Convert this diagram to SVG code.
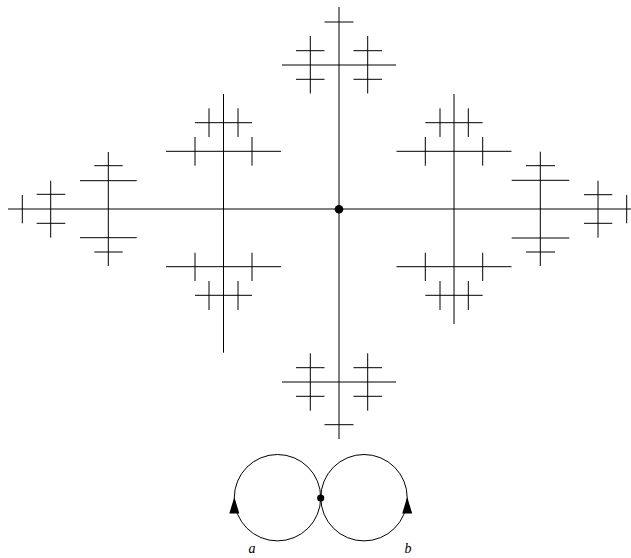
<svg xmlns="http://www.w3.org/2000/svg" width="631" height="558" viewBox="0 0 631 558">
<style>
line{stroke:#000;stroke-width:1;fill:none}
.c{fill:none;stroke:#000;stroke-width:1}
.dot{fill:#000}
.lbl{font-family:"Liberation Serif",serif;font-style:italic;font-size:14px;fill:#000}
</style>
<rect width="631" height="558" fill="#fff"/>
<g id="connectors">
<line x1="8" y1="209" x2="631" y2="209"/>
<line x1="339" y1="7" x2="339" y2="439"/>
<!-- top cluster -->
<line x1="282" y1="65" x2="396" y2="65"/>
<line x1="324.5" y1="22" x2="353.5" y2="22"/>
<line x1="310.3" y1="36" x2="310.3" y2="93.5"/>
<line x1="367.7" y1="36" x2="367.7" y2="93.5"/>
<line x1="296" y1="50.7" x2="324.5" y2="50.7"/>
<line x1="353.5" y1="50.7" x2="382" y2="50.7"/>
<line x1="296" y1="79.3" x2="324.5" y2="79.3"/>
<line x1="353.5" y1="79.3" x2="382" y2="79.3"/>
<!-- bottom cluster -->
<line x1="282" y1="382" x2="396" y2="382"/>
<line x1="324.5" y1="424.7" x2="353.5" y2="424.7"/>
<line x1="310.3" y1="353.3" x2="310.3" y2="410.7"/>
<line x1="367.7" y1="353.3" x2="367.7" y2="410.7"/>
<line x1="296" y1="367.7" x2="324.5" y2="367.7"/>
<line x1="353.5" y1="367.7" x2="382" y2="367.7"/>
<line x1="296" y1="396.3" x2="324.5" y2="396.3"/>
<line x1="353.5" y1="396.3" x2="382" y2="396.3"/>
<!-- left column -->
<line x1="223.5" y1="94" x2="223.5" y2="352.7"/>
<line x1="166" y1="151.3" x2="281" y2="151.3"/>
<line x1="195" y1="137" x2="195" y2="165.7"/>
<line x1="252" y1="137" x2="252" y2="165.7"/>
<line x1="195" y1="122.7" x2="252" y2="122.7"/>
<line x1="209" y1="108.3" x2="209" y2="137"/>
<line x1="238" y1="108.3" x2="238" y2="137"/>
<line x1="166" y1="266.7" x2="281" y2="266.7"/>
<line x1="195" y1="252.7" x2="195" y2="281"/>
<line x1="252" y1="252.7" x2="252" y2="281"/>
<line x1="195" y1="295.3" x2="252" y2="295.3"/>
<line x1="209" y1="281" x2="209" y2="310"/>
<line x1="238" y1="281" x2="238" y2="310"/>
<!-- right column -->
<line x1="454" y1="94" x2="454" y2="324"/>
<line x1="396.5" y1="151.3" x2="511.5" y2="151.3"/>
<line x1="425.3" y1="137" x2="425.3" y2="165.7"/>
<line x1="482.7" y1="137" x2="482.7" y2="165.7"/>
<line x1="425.3" y1="122.7" x2="482.7" y2="122.7"/>
<line x1="440" y1="108.3" x2="440" y2="137"/>
<line x1="468.3" y1="108.3" x2="468.3" y2="137"/>
<line x1="396.5" y1="266.7" x2="511.5" y2="266.7"/>
<line x1="425.3" y1="252.7" x2="425.3" y2="281"/>
<line x1="482.7" y1="252.7" x2="482.7" y2="281"/>
<line x1="425.3" y1="295.3" x2="482.7" y2="295.3"/>
<line x1="440" y1="281" x2="440" y2="310"/>
<line x1="468.3" y1="281" x2="468.3" y2="310"/>
<!-- far left -->
<line x1="108.3" y1="152" x2="108.3" y2="266"/>
<line x1="80" y1="180.7" x2="136.7" y2="180.7"/>
<line x1="80" y1="237.7" x2="136.7" y2="237.7"/>
<line x1="94.3" y1="165.7" x2="122.7" y2="165.7"/>
<line x1="94.3" y1="252" x2="122.7" y2="252"/>
<line x1="50.7" y1="180.7" x2="50.7" y2="237.7"/>
<line x1="36.7" y1="194.3" x2="65.3" y2="194.3"/>
<line x1="36.7" y1="223.3" x2="65.3" y2="223.3"/>
<line x1="22.3" y1="195" x2="22.3" y2="223.3"/>
<!-- far right -->
<line x1="540.3" y1="151.7" x2="540.3" y2="266"/>
<line x1="511.7" y1="180.3" x2="569.3" y2="180.3"/>
<line x1="511.7" y1="238" x2="569.3" y2="238"/>
<line x1="526" y1="165.7" x2="555" y2="165.7"/>
<line x1="526" y1="252" x2="555" y2="252"/>
<line x1="598" y1="180.7" x2="598" y2="237.7"/>
<line x1="584" y1="194.7" x2="612.3" y2="194.7"/>
<line x1="584" y1="223.3" x2="612.3" y2="223.3"/>
<line x1="626.7" y1="195" x2="626.7" y2="223.3"/>
</g>
<g id="identity">
<circle class="dot" cx="339" cy="209.3" r="4.3"/>
</g>
<g id="rose">
<circle class="c" cx="277.5" cy="497.7" r="43.2"/>
<circle class="c" cx="364" cy="497.7" r="43.2"/>
<circle class="dot" cx="320.7" cy="498" r="3.6"/>
<polygon class="dot" points="234.3,497 229.3,513.5 239.3,513.5"/>
<polygon class="dot" points="407.2,497 402.2,513.5 412.2,513.5"/>
<text class="lbl" x="248.5" y="553">a</text>
<text class="lbl" x="404.5" y="553">b</text>
</g>
</svg>
